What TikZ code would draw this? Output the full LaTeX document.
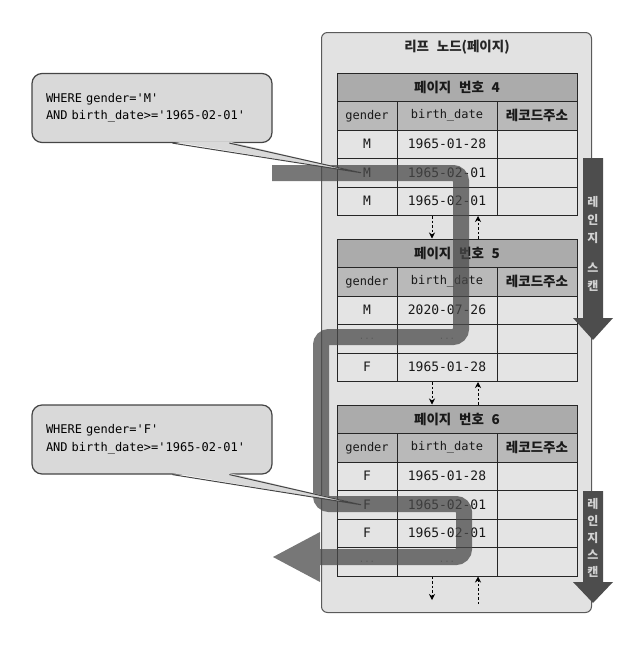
\documentclass[tikz,border=0pt]{standalone}
\usepackage{fontspec}
\setmonofont{DejaVu Sans Mono}
\newfontfamily\kofont{Noto Sans CJK KR}[WordSpace=2.5]
\usetikzlibrary{arrows.meta,calc,positioning}
\definecolor{lfill}{HTML}{E2E2E2}
\definecolor{lline}{HTML}{5A5A5A}
\definecolor{ptitle}{HTML}{ABABAB}
\definecolor{phead}{HTML}{B9B9B9}
\definecolor{pcell}{HTML}{E4E4E4}
\definecolor{cfill}{HTML}{D9D9D9}
\definecolor{cline}{HTML}{454545}
\definecolor{sband}{HTML}{4A4A4A}
\definecolor{rscan}{HTML}{4D4D4D}
\definecolor{rtext}{HTML}{D2D2D2}
\newcommand{\elide}{{\color{black!45}\fontsize{9}{9}\selectfont...}}
\tikzset{
  leafbox/.style={draw=lline, fill=lfill, line width=1pt, rounded corners=6pt, inner sep=0pt},
  cell/.style={draw=black!85, line width=1pt, fill=pcell, inner sep=0pt,
               minimum height=28.5pt, text=black!90},
  ttl/.style={cell, fill=ptitle, minimum width=240pt, font=\kofont\bfseries\fontsize{13.5}{14}\selectfont},
  hdr/.style={cell, fill=phead, font=\ttfamily\fontsize{12}{14}\selectfont},
  hdrko/.style={hdr, font=\kofont\bfseries\fontsize{13.5}{14}\selectfont},
  dat/.style={cell, font=\ttfamily\fontsize{13}{14}\selectfont},
  colg/.style={minimum width=60pt},
  cold/.style={minimum width=100pt},
  cola/.style={minimum width=80pt},
  link/.style={dash pattern=on 2.5pt off 2pt, line width=0.8pt, -{Stealth[length=6pt,width=6pt]}},
  callout/.style={draw=cline, fill=cfill, line width=1.2pt, rounded corners=10pt,
                  minimum width=240pt, minimum height=69pt, text width=212pt, align=left,
                  inner sep=0pt, font=\ttfamily\fontsize{12}{17.5}\selectfont},
  pointer/.style={draw=cline, line width=1pt},
  scanband/.style={draw=sband, line width=16pt, opacity=0.75, rounded corners=8pt,
                   -{Triangle[length=47pt,width=50pt,line width=0pt]}},
  rangearrow/.style={fill=rscan},
  rangetext/.style={text=rtext, align=center, inner sep=0pt},
}
\begin{document}
\begin{tikzpicture}[x=1pt,y=-1pt]
  \useasboundingbox (0,0) rectangle (626,646);

  % leaf node frame
  \node[leafbox, anchor=north west, minimum width=270pt, minimum height=580pt] (leaf) at (321,32) {};
  \node[font=\kofont\bfseries\fontsize{13.5}{14}\selectfont, text=black!85] (leaf-t) at (457,47) {리프 노드(페이지)};

  % pages
  \foreach \pg/\top/\rows in {4/73/{M/1965-01-28,M/1965-02-01,M/1965-02-01},
                             5/239/{M/2020-07-26,\elide/\elide,F/1965-01-28},
                             6/405/{F/1965-01-28,F/1965-02-01,F/1965-02-01,\elide/\elide}}
  {
    \node[ttl] (p\pg-t) at (457,\top+14.25) {페이지 번호 \pg};
    \node[hdr, colg] (p\pg-hg) at (367,\top+42.75) {gender};
    \node[hdr, cold] (p\pg-hd) at (447,\top+42.75) {birth\_date};
    \node[hdrko, cola] (p\pg-ha) at (537,\top+42.75) {레코드주소};
    \foreach \g/\d [count=\i] in \rows {
      \node[dat, colg] (p\pg-r\i-g) at (367,\top+42.75+28.5*\i) {\g};
      \node[dat, cold] (p\pg-r\i-d) at (447,\top+42.75+28.5*\i) {\d};
      \node[dat, cola] (p\pg-r\i-a) at (537,\top+42.75+28.5*\i) {};
    }
  }

  % page links
  \foreach \a/\b/\n in {4/5/3,5/6/3} {
    \draw[link] ($(p\a-r\n-d.south)+(-15,0)$) -- ($(p\b-t.north)+(-25,0)$);
    \draw[link] ($(p\b-t.north)+(21,0)$) -- ($(p\a-r\n-d.south)+(31,0)$);
  }
  \coordinate (p6-dn) at (432,600);
  \coordinate (p6-up) at (478,604);
  \draw[link] ($(p6-r4-d.south)+(-15,0)$) -- (p6-dn);
  \draw[link] (p6-up) -- ($(p6-r4-d.south)+(31,0)$);

  % scan path
  \coordinate (bandM) at (272,173);
  \coordinate (bandF) at (273,557);
  \draw[scanband] (bandM) -- (461,173) -- (461,337) -- (321,337) -- (321,504)
                  -- (464,504) -- (464,557) -- (bandF);

  % query callouts
  \node[callout] (qm) at (152,108) {WHERE gender='M'\\AND birth\_date>='1965-02-01'};
  \node[callout] (qf) at (152,439.5) {WHERE gender='F'\\AND birth\_date>='1965-02-01'};
  \foreach \q/\c in {qm/p4-r2-g, qf/p6-r2-g} {
    \fill[cfill] ($(\q.south west)+(141,-1.5)$) -- ([xshift=-6pt]\c.center)
                 -- ($(\q.south west)+(198,-1.5)$) -- cycle;
    \draw[pointer] ($(\q.south west)+(141,0)$) -- ([xshift=-6pt]\c.center)
                   -- ($(\q.south west)+(198,0)$);
  }

  % range scan arrows
  \fill[rangearrow] (583,158) -- (603,158) -- (603,318) -- (613,318) -- (593,340)
                    -- (573,318) -- (583,318) -- cycle;
  \node[rangetext, font=\kofont\bfseries\fontsize{12}{18}\selectfont] (rs1) at (593,244)
    {레\\인\\지\\[12pt]스\\캔};
  \fill[rangearrow] (583,491) -- (603,491) -- (603,582) -- (613,582) -- (593,603)
                    -- (573,582) -- (583,582) -- cycle;
  \node[rangetext, font=\kofont\bfseries\fontsize{12}{17}\selectfont] (rs2) at (593,538)
    {레\\인\\지\\스\\캔};
\end{tikzpicture}
\end{document}
